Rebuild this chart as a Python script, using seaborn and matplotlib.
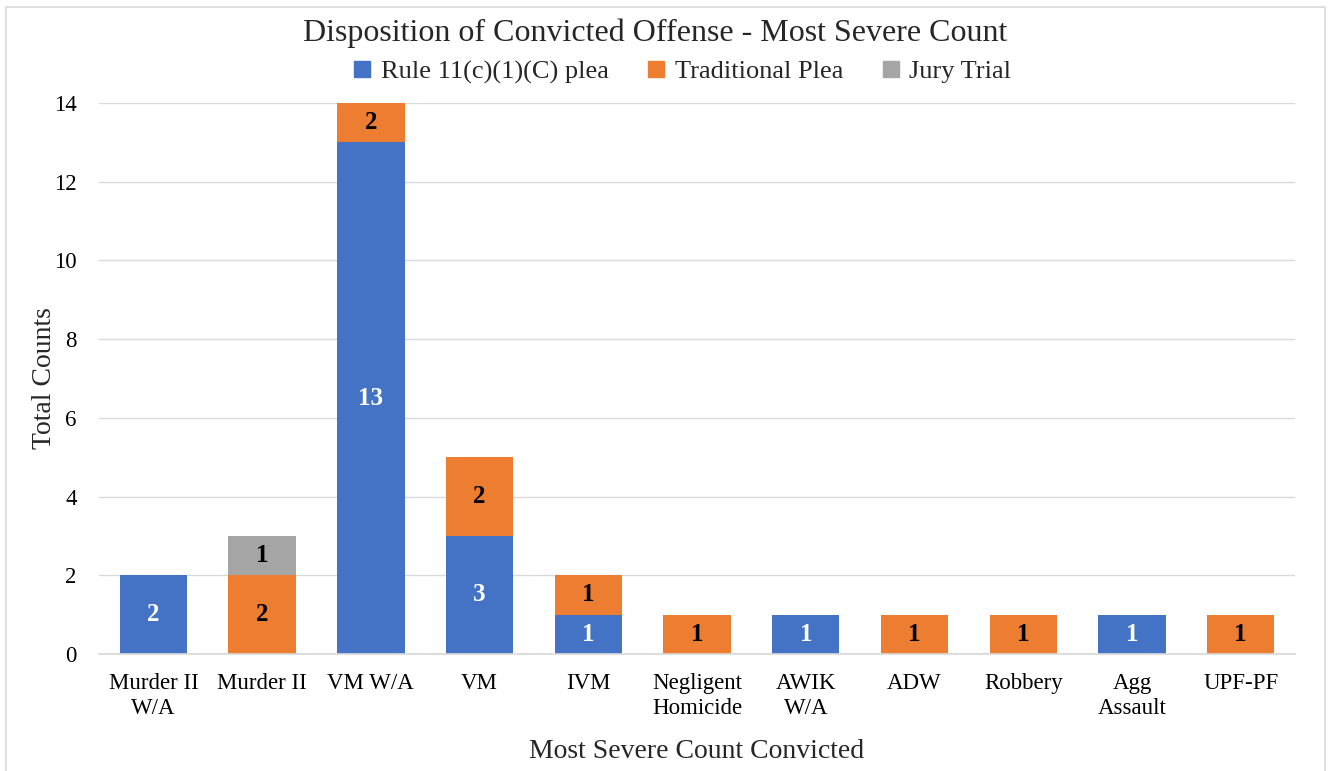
import matplotlib
matplotlib.use("Agg")
import matplotlib.pyplot as plt
from matplotlib.patches import Rectangle
from matplotlib.lines import Line2D
import seaborn as sns
import pandas as pd
import numpy as np

# Convicted offense categories and counts per disposition type
categories = ["Murder II\nW/A", "Murder II", "VM W/A", "VM", "IVM",
              "Negligent\nHomicide", "AWIK\nW/A", "ADW", "Robbery",
              "Agg\nAssault", "UPF-PF"]
rule_plea = [2, 0, 13, 3, 1, 0, 1, 0, 0, 1, 0]
traditional_plea = [0, 2, 2, 2, 1, 1, 0, 1, 1, 0, 1]
jury_trial = [0, 1, 0, 0, 0, 0, 0, 0, 0, 0, 0]
series_names = ["Rule 11(c)(1)(C) plea", "Traditional Plea", "Jury Trial"]
colors = ["#4472C4", "#ED7D31", "#A5A5A5"]
label_colors = ["white", "black", "black"]
y_max = 14

sns.set_theme(style="white")
plt.rcParams["font.family"] = ["Liberation Serif", "DejaVu Serif"]

fig = plt.figure(figsize=(13.31, 7.71), dpi=100)
ax = fig.add_axes([0.0744, 0.1518, 0.8986, 0.7146])

df = pd.DataFrame({"category": categories, "rule": rule_plea,
                   "trad": traditional_plea, "jury": jury_trial})
layers = [df["rule"], df["trad"], df["jury"]]
cum = np.cumsum(np.array(layers, dtype=float), axis=0)

# Draw cumulative totals from the top layer down so each segment shows its own colour
for i in range(2, -1, -1):
    sns.barplot(x=df["category"], y=cum[i], color=colors[i], width=0.62,
                saturation=1, ax=ax, order=categories, linewidth=0)

# Segment value labels, centred on the visible part of each segment
for i in range(3):
    bottom = cum[i] - np.array(layers[i])
    for j, v in enumerate(layers[i]):
        if v > 0:
            lo = bottom[j]
            hi = min(cum[i][j], y_max)
            ax.text(j, (lo + hi) / 2, f"{v}", ha="center", va="center",
                    fontsize=18, fontweight="bold", color=label_colors[i])

ax.set_ylim(0, y_max)
ax.set_xlim(-0.5, len(categories) - 0.5)
ax.set_yticks(range(0, y_max + 1, 2))
ax.yaxis.grid(True, color="#d9d9d9", linewidth=1)
ax.set_axisbelow(True)
for s in ["top", "right", "left"]:
    ax.spines[s].set_visible(False)
ax.spines["bottom"].set_color("#d9d9d9")
ax.tick_params(axis="both", length=0, labelsize=16.5, colors="black")
ax.tick_params(axis="y", pad=16)
ax.tick_params(axis="x", pad=14)
for lbl in ax.get_xticklabels():
    lbl.set_linespacing(1.2)
ax.set_xlabel("Most Severe Count Convicted", fontsize=20)
ax.set_ylabel("Total Counts", fontsize=20)
ax.xaxis.set_label_coords(0.5, -0.154)
ax.yaxis.set_label_coords(-0.035, 0.5)

fig.text(0.492, 0.957, "Disposition of Convicted Offense - Most Severe Count",
         ha="center", va="center", fontsize=23)

handles = [Line2D([0], [0], marker="s", linestyle="none", markersize=11,
                  markerfacecolor=c, markeredgecolor=c) for c in colors]
fig.legend(handles, series_names, loc="center", bbox_to_anchor=(0.512, 0.907),
           ncol=3, frameon=False, fontsize=19, handletextpad=0.3,
           columnspacing=1.4, handlelength=0.8)

fig.patches.append(Rectangle((6 / 1331, -0.02), 1319 / 1331, 1 - 7 / 771 + 0.02,
                             transform=fig.transFigure, fill=False,
                             edgecolor="#d9d9d9", linewidth=1.2))

fig.savefig("out.png", dpi=100)
